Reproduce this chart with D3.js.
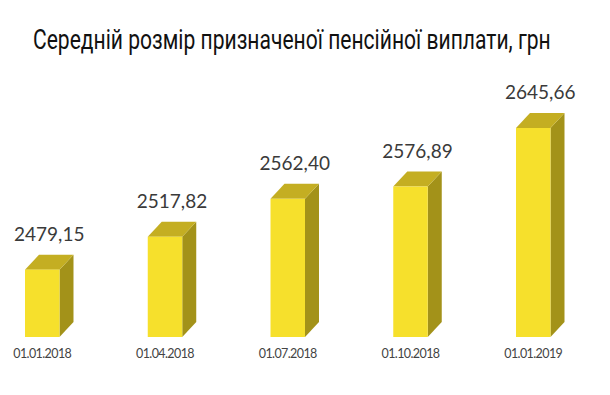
<!DOCTYPE html>
<html lang="uk">
<head>
   <meta charset="UTF-8">
   <title>Середній розмір пенсійної виплати</title>
   <script src="https://cdn.jsdelivr.net/npm/d3@7"></script>
   <style>
      html, body {
         margin: 0;
         background: #ffffff;
      }

      .title {
         font-family: Roboto, sans-serif;
         font-size: 27px;
         fill: #111111;
      }

      .value {
         font-family: Lato, sans-serif;
         font-size: 19px;
         fill: #3a3a3a;
      }

      .date {
         font-family: Lato, sans-serif;
         font-size: 12.5px;
         letter-spacing: -0.6px;
         fill: #444444;
      }
   </style>
</head>
<body>
   <svg width="610" height="395"></svg>
   <script>
      // data
      const dates = ['01.01.2018', '01.04.2018', '01.07.2018', '01.10.2018', '01.01.2019']
      const values = [2479.15, 2517.82, 2562.40, 2576.89, 2645.66]
      const valueLabels = ['2479,15', '2517,82', '2562,40', '2576,89', '2645,66']

      const svg = d3.select('svg')

      // 3d box depth
      const depthX = 14
      const depthY = 15

      const xScale = d3.scaleBand()
         .domain(dates)
         .range([25, 550.5])
         .paddingInner(0.719)
         .paddingOuter(0)

      const yScale = d3.scaleLinear()
         .domain([2400, 2650])
         .range([337, 124.3])

      const rows = dates.map((d, i) => ({ date: d, value: values[i], label: valueLabels[i] }))

      // title, squeezed horizontally to look condensed
      const title = svg.append('text')
         .attr('class', 'title')
         .text('Середній розмір призначеної пенсійної виплати, грн')
      const titleWidth = title.node().getComputedTextLength()
      const titleScale = 518 / titleWidth
      title.attr('transform', `translate(33, 49) scale(${titleScale}, 1)`)

      const bars = svg.selectAll('g.bar')
         .data(rows)
         .enter()
         .append('g')
         .attr('class', 'bar')

      const bw = xScale.bandwidth()

      // side face
      bars.append('path')
         .attr('fill', '#a39219')
         .attr('d', d => {
            const x1 = xScale(d.date) + bw
            const y0 = yScale(d.value)
            const y1 = yScale(2400)
            return `M${x1},${y0} L${x1 + depthX},${y0 - depthY} L${x1 + depthX},${y1 - depthY} L${x1},${y1} Z`
         })

      // top face
      bars.append('path')
         .attr('fill', '#c4ae22')
         .attr('d', d => {
            const x0 = xScale(d.date)
            const y0 = yScale(d.value)
            return `M${x0},${y0} L${x0 + depthX},${y0 - depthY} L${x0 + bw + depthX},${y0 - depthY} L${x0 + bw},${y0} Z`
         })

      // front face
      bars.append('rect')
         .attr('fill', '#f6e02c')
         .attr('x', d => xScale(d.date))
         .attr('y', d => yScale(d.value))
         .attr('width', bw)
         .attr('height', d => yScale(2400) - yScale(d.value))

      bars.append('text')
         .attr('class', 'value')
         .attr('text-anchor', 'middle')
         .attr('x', d => xScale(d.date) + bw / 2 + depthX / 2)
         .attr('y', d => yScale(d.value) - depthY - 14)
         .text(d => d.label)

      bars.append('text')
         .attr('class', 'date')
         .attr('text-anchor', 'middle')
         .attr('x', d => xScale(d.date) + bw / 2)
         .attr('y', 358)
         .text(d => d.date)
   </script>
</body>
</html>
